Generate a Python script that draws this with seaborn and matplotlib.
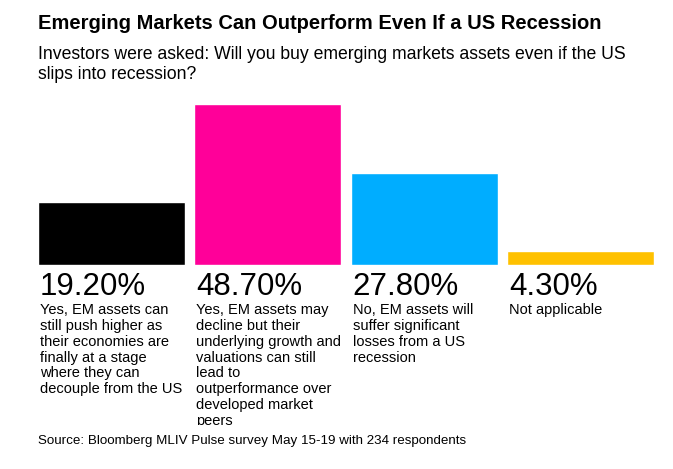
import matplotlib
matplotlib.use("Agg")
import matplotlib.pyplot as plt
import seaborn as sns
import pandas as pd
from matplotlib.transforms import blended_transform_factory, Bbox

categories = ["Yes, can decouple", "Yes, may decline", "No, losses", "Not applicable"]
values = [19.2, 48.7, 27.8, 4.3]
value_labels = ["19.20%", "48.70%", "27.80%", "4.30%"]
descriptions = [
    "Yes, EM assets can\nstill push higher as\ntheir economies are\nfinally at a stage\nwhere they can\ndecouple from the US",
    "Yes, EM assets may\ndecline but their\nunderlying growth and\nvaluations can still\nlead to\noutperformance over\ndeveloped market\npeers",
    "No, EM assets will\nsuffer significant\nlosses from a US\nrecession",
    "Not applicable",
]
colors = ["#000000", "#ff0099", "#00adff", "#ffc100"]
title = "Emerging Markets Can Outperform Even If a US Recession"
subtitle = "Investors were asked: Will you buy emerging markets assets even if the US\nslips into recession?"
source = "Source: Bloomberg MLIV Pulse survey May 15-19 with 234 respondents"

sns.set_theme(style="white")
plt.rcParams["font.family"] = ["Liberation Sans", "DejaVu Sans"]

W, H = 673, 469
fig = plt.figure(figsize=(W / 100, H / 100), dpi=100)
bw = 0.94
# axes in pixel coordinates
left_px, right_px = 38, 654
base_px, top_px = 265, 104
ax = fig.add_axes([left_px / W, (H - base_px) / H, (right_px - left_px) / W, (base_px - top_px) / H])

df = pd.DataFrame({"cat": categories, "val": values})
sns.barplot(data=df, x="cat", y="val", hue="cat", palette=colors, order=categories,
            hue_order=categories, width=bw, legend=False, ax=ax, saturation=1)
ax.set_xlim(-bw / 2, 3 + bw / 2)
ax.set_ylim(0, max(values))
ax.set_axis_off()

tr = blended_transform_factory(ax.transData, fig.transFigure)
clip = Bbox.from_extents(0, (H - 425), W, H)
for i, (lab, desc) in enumerate(zip(value_labels, descriptions)):
    x0 = i - bw / 2 + 0.012
    fig.text(x0, 1 - 272 / H, lab, transform=tr, fontsize=22.5, va="top", ha="left", color="black")
    t = fig.text(x0, 1 - 303 / H, desc, transform=tr, fontsize=10.5, va="top", ha="left",
                 color="black", linespacing=1.17)
    t.set_clip_box(clip)
    t.set_clip_on(True)

fig.text(38 / W, 1 - 14 / H, title, fontsize=14.5, fontweight="bold", va="top", ha="left", color="black")
fig.text(38 / W, 1 - 46 / H, subtitle, fontsize=12.7, va="top", ha="left", color="black", linespacing=1.22)
fig.text(38 / W, 1 - 435 / H, source, fontsize=9.6, va="top", ha="left", color="black")

fig.savefig("out.png", dpi=100, facecolor="white")
